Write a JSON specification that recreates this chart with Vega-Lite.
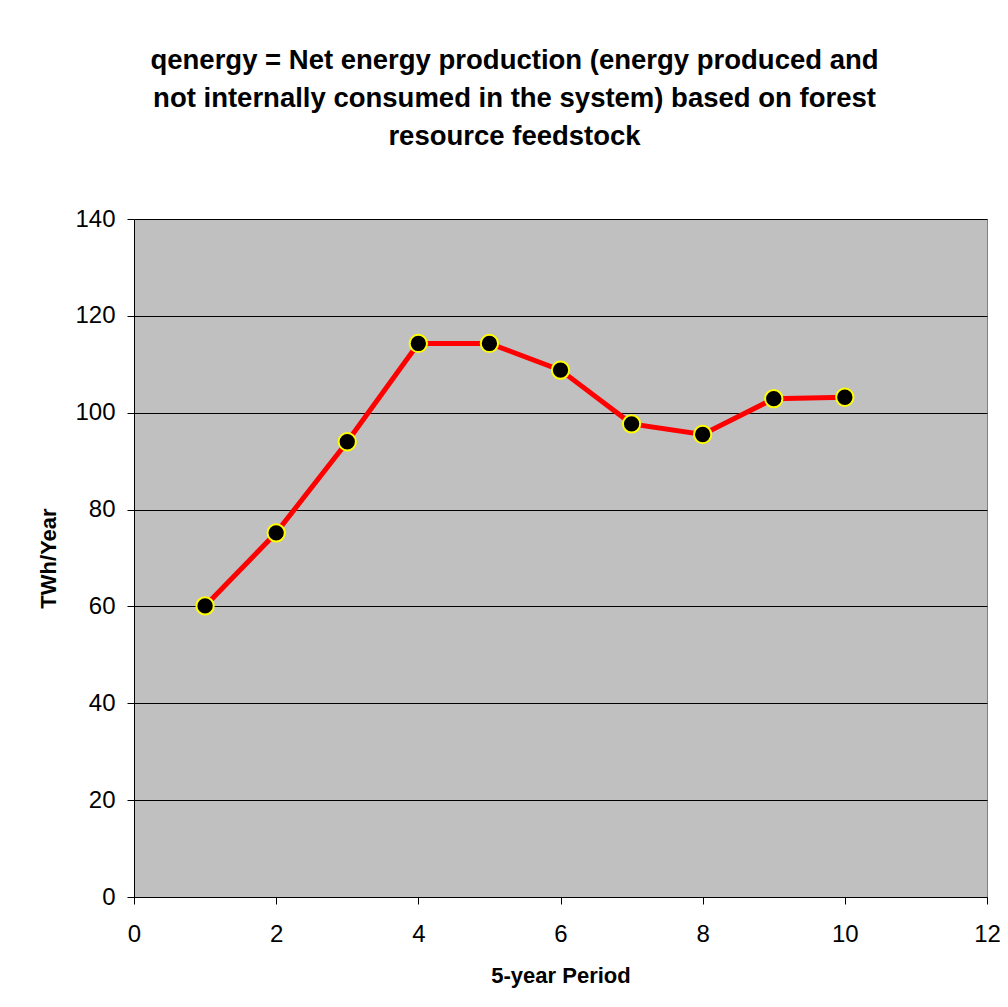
{
  "$schema": "https://vega.github.io/schema/vega-lite/v6.json",
  "width": 853,
  "height": 678,
  "autosize": "none",
  "padding": {"left": 134, "top": 219, "right": 21, "bottom": 110},
  "background": "white",
  "title": {
    "text": [
      "qenergy = Net energy production (energy produced and",
      "not internally consumed in the system) based on forest",
      "resource feedstock"
    ],
    "font": "Liberation Sans",
    "fontSize": 27.5,
    "fontWeight": "bold",
    "lineHeight": 38,
    "color": "black",
    "anchor": "middle",
    "dx": -46,
    "offset": 57
  },
  "config": {
    "view": {"fill": "#C0C0C0", "stroke": "#808080", "strokeWidth": 1},
    "axis": {
      "labelFont": "Liberation Sans",
      "labelFontSize": 24,
      "labelColor": "black",
      "labelFlush": false,
      "titleFont": "Liberation Sans",
      "titleFontSize": 22,
      "titleFontWeight": "bold",
      "titleColor": "black",
      "domainColor": "black",
      "domainWidth": 1,
      "tickColor": "black",
      "tickSize": 7,
      "gridColor": "black",
      "gridWidth": 1,
      "gridOpacity": 1
    }
  },
  "data": {
    "values": [
      {"period": 1, "energy": 60.1},
      {"period": 2, "energy": 75.2},
      {"period": 3, "energy": 94.0},
      {"period": 4, "energy": 114.3},
      {"period": 5, "energy": 114.3},
      {"period": 6, "energy": 108.8},
      {"period": 7, "energy": 97.7},
      {"period": 8, "energy": 95.5},
      {"period": 9, "energy": 102.9},
      {"period": 10, "energy": 103.2}
    ]
  },
  "encoding": {
    "x": {
      "field": "period",
      "type": "quantitative",
      "scale": {"domain": [0, 12], "nice": false, "zero": false},
      "axis": {
        "title": "5-year Period",
        "values": [0, 2, 4, 6, 8, 10, 12],
        "grid": false,
        "labelPadding": 18,
        "titlePadding": 19
      }
    },
    "y": {
      "field": "energy",
      "type": "quantitative",
      "scale": {"domain": [0, 140], "nice": false},
      "axis": {
        "title": "TWh/Year",
        "values": [0, 20, 40, 60, 80, 100, 120, 140],
        "grid": true,
        "labelPadding": 12,
        "titlePadding": 14
      }
    }
  },
  "layer": [
    {
      "mark": {"type": "line", "color": "#FF0000", "strokeWidth": 5}
    },
    {
      "mark": {
        "type": "point",
        "shape": "circle",
        "filled": true,
        "fill": "black",
        "stroke": "#FFFF00",
        "strokeWidth": 2,
        "size": 300,
        "opacity": 1
      }
    }
  ]
}
